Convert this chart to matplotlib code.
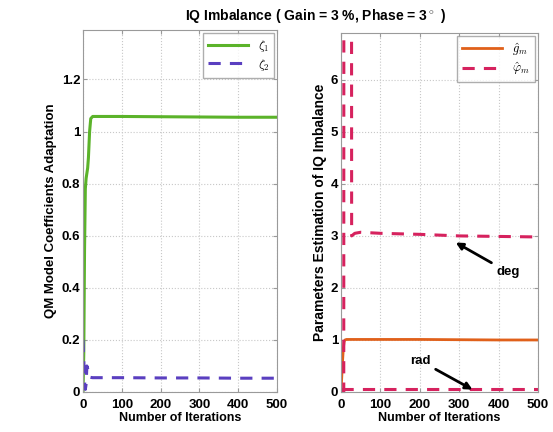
import numpy as np
import matplotlib
matplotlib.use('Agg')
import matplotlib.pyplot as plt

plt.rcParams['font.family'] = ['Liberation Sans', 'DejaVu Sans']
plt.rcParams['font.weight'] = 'bold'
plt.rcParams['mathtext.fontset'] = 'cm'

# ── Data ──────────────────────────────────────────────────────────────────────
# left panel: QM coefficient adaptation
zeta_it = [0, 2, 4, 6, 8, 10, 12, 14, 17, 20, 25, 30, 50, 100, 200, 300, 400, 500]
zeta1   = [0.0, 0.15, 0.55, 0.78, 0.82, 0.84, 0.86, 0.9, 1.0, 1.05, 1.058, 1.058,
           1.058, 1.058, 1.057, 1.056, 1.055, 1.055]
zeta2   = [0.2, 0.12, 0.04, 0.01, 0.03, 0.1, 0.09, 0.07, 0.057, 0.056, 0.055, 0.055,
           0.055, 0.055, 0.054, 0.054, 0.053, 0.053]

# right panel: gain / phase estimates
g_it  = [0, 2, 4, 6, 8, 10, 14, 20, 50, 100, 200, 300, 400, 500]
g_hat = [0.0, 0.3, 0.6, 0.85, 0.97, 1.0, 1.01, 1.01, 1.01, 1.01, 1.01, 1.005, 1.0, 1.0]

phi_it      = [0, 7, 8, 25, 27, 35, 50, 100, 200, 300, 400, 500]
phi_deg     = [0.0, 0.0, 40.0, 40.0, 3.0, 3.05, 3.07, 3.05, 3.03, 3.0, 2.99, 2.98]
phi_rad_it  = [0, 500]
phi_rad     = [0.053, 0.053]

# ── Plot ──────────────────────────────────────────────────────────────────────
fig = plt.figure(figsize=(5.53, 4.32), dpi=100)
ax1 = fig.add_axes([83/553, 1 - 392/432, 194/553, 362/432])
ax2 = fig.add_axes([341/553, 1 - 392/432, 197/553, 359/432])

frame_col = '#9a9a9a'
for ax in (ax1, ax2):
    ax.grid(True, linestyle=':', color='#c8c8c8', lw=0.8)
    for s in ax.spines.values():
        s.set_color(frame_col)
    ax.tick_params(direction='in', length=3, color=frame_col, labelsize=9.5,
                   top=True, right=True, pad=2)
    ax.tick_params(axis='x', pad=5)
    ax.set_xlim(0, 500)
    ax.set_xticks([0, 100, 200, 300, 400, 500])
    ax.set_xlabel('Number of Iterations', fontsize=9, fontweight='bold', labelpad=1)

ax1.plot(zeta_it, zeta1, color='#5bb32a', lw=2.2, label=r'$\zeta_1$')
ax1.plot(zeta_it, zeta2, color='#5a3fc0', lw=2.2, ls=(0, (4, 3)), label=r'$\zeta_2$')
ax1.set_ylim(0, 1.39)
ax1.set_yticks([0, 0.2, 0.4, 0.6, 0.8, 1.0, 1.2])
ax1.set_yticklabels(['0', '0.2', '0.4', '0.6', '0.8', '1', '1.2'])
ax1.set_ylabel('QM Model Coefficients Adaptation', fontsize=9.5,
               fontweight='bold', labelpad=3)
ax1.legend(loc='upper right', fontsize=9, handlelength=3.2, borderpad=0.4,
           labelspacing=0.2, fancybox=False, edgecolor=frame_col,
           borderaxespad=0.25)

ax2.plot(g_it, g_hat, color='#e0601a', lw=2.0, label=r'$\hat{g}_m$')
ax2.plot(phi_it, phi_deg, color='#d6225e', lw=2.2, ls=(0, (4, 3)),
         label=r'$\hat{\varphi}_m$')
ax2.plot(phi_rad_it, phi_rad, color='#d6225e', lw=2.2, ls=(0, (4, 3)))
ax2.set_ylim(0, 6.9)
ax2.set_yticks([0, 1, 2, 3, 4, 5, 6])
ax2.set_ylabel('Parameters Estimation of IQ Imbalance', fontsize=10,
               fontweight='bold', labelpad=3)
ax2.legend(loc='upper right', fontsize=9, handlelength=3.2, borderpad=0.4,
           labelspacing=0.2, fancybox=False, edgecolor=frame_col,
           borderaxespad=0.25)

for ax in (ax1, ax2):
    for lab in ax.get_xticklabels() + ax.get_yticklabels():
        lab.set_fontweight('bold')

arrow = dict(arrowstyle='-|>', color='black', lw=2, mutation_scale=10)
ax2.annotate('deg', xy=(285, 2.9), xytext=(395, 2.3), fontsize=9.5,
             fontweight='bold', arrowprops=arrow, va='center')
ax2.annotate('rad', xy=(340, 0.02), xytext=(175, 0.6), fontsize=9.5,
             fontweight='bold', arrowprops=arrow, va='center')

fig.text(0.57, 0.962, r'IQ Imbalance ( Gain = 3 %, Phase = 3$^\circ$ )',
         ha='center', va='center', fontsize=10, fontweight='bold')

fig.savefig('out.png', dpi=100)
